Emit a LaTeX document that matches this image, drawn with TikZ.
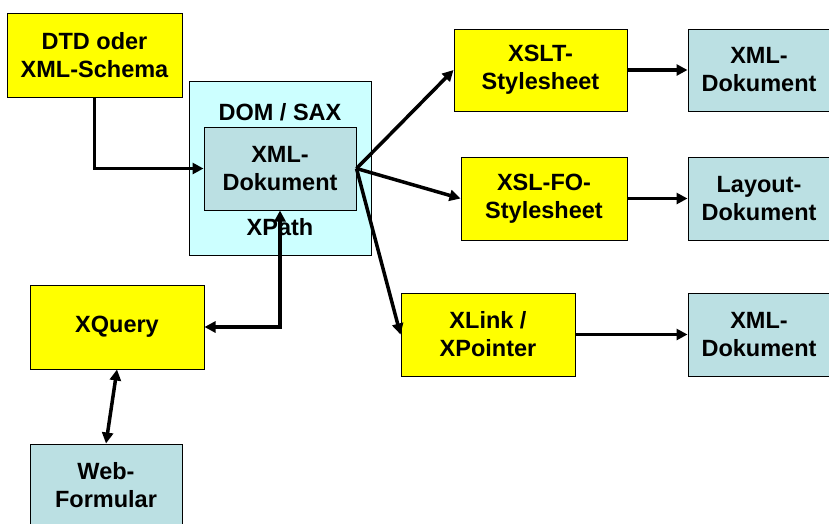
\documentclass[tikz,border=0pt]{standalone}
\usepackage{fontspec}
\setmainfont{Liberation Sans}
\usetikzlibrary{arrows.meta}
\definecolor{ybox}{HTML}{FFFF00}
\definecolor{gbox}{HTML}{BBE0E3}
\definecolor{cbox}{HTML}{CCFFFF}
\tikzset{
  box/.style={draw=black, line width=1pt, align=center, inner sep=0pt,
    font=\fontsize{23.5}{28}\selectfont\bfseries},
  yel/.style={box, fill=ybox},
  gry/.style={box, fill=gbox},
  lbl/.style={font=\fontsize{23.5}{28}\selectfont\bfseries, inner sep=0pt},
  arr/.style={line width=3.5pt, -{Triangle[length=11pt,width=11pt]}},
  darr/.style={line width=3.5pt, {Triangle[length=11pt,width=11pt]}-{Triangle[length=11pt,width=11pt]}}
}
\begin{document}
\begin{tikzpicture}[x=1pt,y=-1pt]
\useasboundingbox (0,0) rectangle (829,523);
\node[box, fill=cbox, minimum width=182pt, minimum height=174pt] (dom) at (280,168) {};
\node[lbl] (domsax) at (280,112) {DOM / SAX};
\node[lbl] (xpath) at (280,227) {XPath};
\node[gry, minimum width=152pt, minimum height=83pt] (xmlin) at (280,168.5) {XML-\\Dokument};
\node[yel, minimum width=175pt, minimum height=84pt] (dtd) at (94.5,55) {DTD oder\\XML-Schema};
\node[yel, minimum width=173pt, minimum height=82pt] (xslt) at (540.5,70) {XSLT-\\Stylesheet};
\node[gry, minimum width=142pt, minimum height=82pt] (xml1) at (759,70) {XML-\\Dokument};
\node[yel, minimum width=166pt, minimum height=83pt] (xslfo) at (544,198.5) {XSL-FO-\\Stylesheet};
\node[gry, minimum width=142pt, minimum height=83pt] (layout) at (759,198.5) {Layout-\\Dokument};
\node[yel, minimum width=174pt, minimum height=83pt] (xlink) at (488,334.5) {XLink /\\XPointer};
\node[gry, minimum width=142pt, minimum height=83pt] (xml3) at (759,334.5) {XML-\\Dokument};
\node[yel, minimum width=174pt, minimum height=84pt] (xquery) at (117,327) {XQuery};
\node[gry, minimum width=152pt, minimum height=82pt] (web) at (106,485) {Web-\\Formular};

\draw[arr] (dtd.south) |- (xmlin.west);
\draw[arr] (xmlin.east) -- (xslt.west);
\draw[arr] (xmlin.east) -- (xslfo.west);
\draw[arr] (xmlin.east) -- (xlink.west);
\draw[arr] (xslt.east) -- (xml1.west);
\draw[arr] (xslfo.east) -- (layout.west);
\draw[arr] (xlink.east) -- (xml3.west);
\draw[darr] (xmlin.south) |- (xquery.east);
\draw[darr] (xquery.south) -- (web.north);
\end{tikzpicture}
\end{document}
